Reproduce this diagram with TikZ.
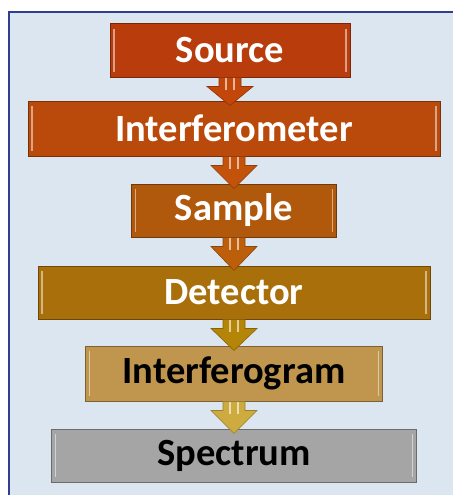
\documentclass[tikz,border=0pt]{standalone}
\usepackage{xcolor}
\usepackage{fontspec}
\setmainfont{Carlito}
\usepackage{tikz}
\usetikzlibrary{positioning,calc}

\definecolor{framebg}{HTML}{DCE6F1}
\definecolor{framecol}{HTML}{2F3F8F}
\definecolor{srccol}{HTML}{B83C0C}
\definecolor{intcol}{HTML}{B94A0C}
\definecolor{smpcol}{HTML}{B0580C}
\definecolor{detcol}{HTML}{A86F0A}
\definecolor{igmcol}{HTML}{C0964E}
\definecolor{spccol}{HTML}{A5A5A5}

\tikzset{
  box/.style={draw=#1!65!black, fill=#1, line width=1pt, minimum height=53pt,
    inner sep=0pt, font=\fontsize{38.5}{40}\selectfont\bfseries, text=white,
    path picture={
      \draw[#1!50!white, line width=1.5pt]
        ([xshift=4pt,yshift=-5pt]path picture bounding box.north west) --
        ([xshift=4pt,yshift=5pt]path picture bounding box.south west);
      \draw[#1!50!white, line width=1.5pt]
        ([xshift=-4pt,yshift=-5pt]path picture bounding box.north east) --
        ([xshift=-4pt,yshift=5pt]path picture bounding box.south east);
    }},
  blk/.style={fill=#1, draw=#1!75!black, line width=0.6pt}
}

% block arrow from node to node %
\newcommand{\blockarrow}[3]{%
  \draw[blk=#3] let \p1=(#1.south), \p2=(#2.north) in
    (\x1-11pt,\y1) -- (\x1-11pt,\y1-9pt) -- (\x1-23pt,\y1-9pt) --
    (\x1,\y2-5pt) -- (\x1+23pt,\y1-9pt) -- (\x1+11pt,\y1-9pt) --
    (\x1+11pt,\y1) -- cycle;
  \draw[#3!40!white, line width=1.2pt] let \p1=(#1.south) in
    (\x1-4pt,\y1) -- (\x1-4pt,\y1-12pt)
    (\x1+4pt,\y1) -- (\x1+4pt,\y1-12pt);
}

\begin{document}
\begin{tikzpicture}[x=1pt,y=-1pt]

\useasboundingbox (0,0) rectangle (453,495);

% frame %
\fill[framebg] (9,12) rectangle (453,495);
\draw[framecol, line width=2pt] (9,495) -- (9,12) -- (453,12);

% nodes %
\node[box=srccol, minimum width=240pt] (src) at (230,50.5) {Source};
\node[box=intcol, minimum width=412pt, minimum height=55pt, below = 23pt of src, xshift=4pt] (intf) {Interferometer};
\node[box=smpcol, minimum width=205pt, below = 27pt of intf] (smp) {Sample};
\node[box=detcol, minimum width=392pt, below = 28pt of smp] (det) {Detector};
\node[box=igmcol, minimum width=297pt, minimum height=55pt, below = 26pt of det, text=black] (igm) {Interferogram};
\node[box=spccol, minimum width=365pt, below = 27pt of igm, text=black] (spc) {Spectrum};

% edges %
\blockarrow{src}{intf}{srccol!85!orange}
\blockarrow{intf}{smp}{intcol!85!orange}
\blockarrow{smp}{det}{smpcol!85!orange}
\blockarrow{det}{igm}{detcol!85!yellow}
\blockarrow{igm}{spc}{igmcol!80!yellow}

\end{tikzpicture}
\end{document}
